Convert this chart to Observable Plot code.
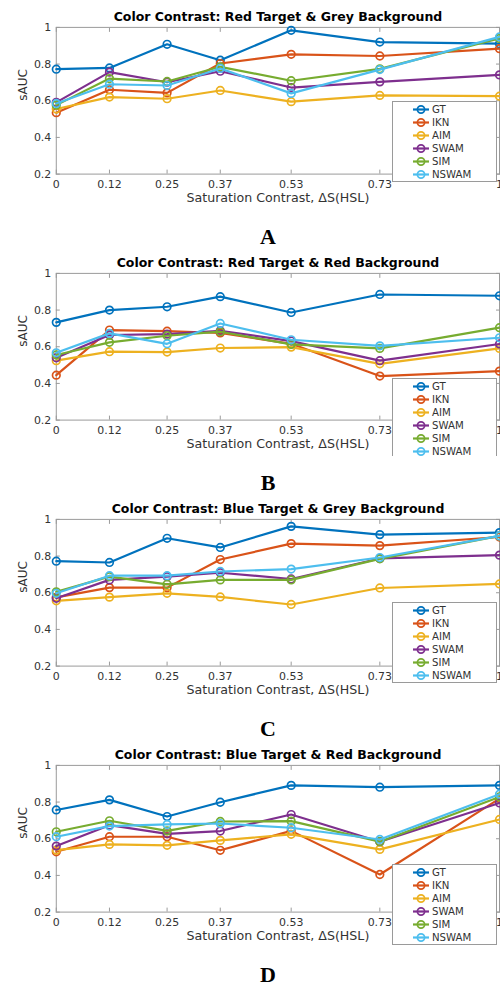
<!DOCTYPE html>
<html><head><meta charset="utf-8">
<script src="https://cdn.jsdelivr.net/npm/d3@7"></script>
<script src="https://cdn.jsdelivr.net/npm/@observablehq/plot@0.6"></script>
<style>
body{margin:0;background:#fff;}
#root{position:relative;width:500px;height:985px;overflow:hidden;font-family:"DejaVu Sans",sans-serif;}
.panel{position:absolute;left:0;width:500px;height:246px;}
.clip{position:absolute;left:0;top:0;width:500px;height:210px;overflow:hidden;}
.clip svg{display:block;}
.title{position:absolute;left:0;width:556px;top:10.3px;text-align:center;font:bold 12.5px "DejaVu Sans",sans-serif;line-height:14px;color:#000;white-space:nowrap;}
.letter{position:absolute;left:0;width:536px;top:225.6px;text-align:center;font:bold 22px "Liberation Serif",serif;line-height:22px;color:#000;}
.legend{position:absolute;left:392px;}
</style>
</head><body><div id="root"></div>
<script>
const xValues = [0, 0.12, 0.25, 0.37, 0.53, 0.73, 1];
const xTickLabels = ["0", "0.12", "0.25", "0.37", "0.53", "0.73", "1"];
const yTicks = [0.2, 0.4, 0.6, 0.8, 1];
const yTickLabels = ["0.2", "0.4", "0.6", "0.8", "1"];
const seriesNames = ["GT", "IKN", "AIM", "SWAM", "SIM", "NSWAM"];
const seriesColors = ["#0072BD", "#D95319", "#EDB120", "#7E2F8E", "#77AC30", "#4DBEEE"];
const panelTitles = [
  "Color Contrast: Red Target & Grey Background",
  "Color Contrast: Red Target & Red Background",
  "Color Contrast: Blue Target & Grey Background",
  "Color Contrast: Blue Target & Red Background"
];
const panelLetters = ["A", "B", "C", "D"];
const xLabel = "Saturation Contrast, \u0394S(HSL)";
const yLabel = "sAUC";

// rows: GT, IKN, AIM, SWAM, SIM, NSWAM
const redGreyValues = [
  [0.772, 0.779, 0.908, 0.821, 0.984, 0.920, 0.911],
  [0.535, 0.660, 0.643, 0.803, 0.853, 0.844, 0.884],
  [0.555, 0.620, 0.611, 0.656, 0.595, 0.629, 0.625],
  [0.591, 0.756, 0.701, 0.761, 0.672, 0.703, 0.741],
  [0.576, 0.721, 0.705, 0.785, 0.709, 0.774, 0.940],
  [0.585, 0.690, 0.683, 0.776, 0.640, 0.770, 0.948]
];
const redRedValues = [
  [0.733, 0.800, 0.818, 0.873, 0.787, 0.885, 0.878],
  [0.445, 0.691, 0.685, 0.675, 0.616, 0.440, 0.467],
  [0.524, 0.573, 0.571, 0.593, 0.598, 0.507, 0.591],
  [0.540, 0.664, 0.669, 0.687, 0.631, 0.524, 0.615],
  [0.555, 0.624, 0.660, 0.682, 0.613, 0.591, 0.704],
  [0.567, 0.673, 0.616, 0.727, 0.638, 0.605, 0.649]
];
const blueGreyValues = [
  [0.772, 0.765, 0.897, 0.847, 0.962, 0.917, 0.928],
  [0.575, 0.628, 0.628, 0.781, 0.868, 0.857, 0.904],
  [0.556, 0.576, 0.597, 0.577, 0.536, 0.626, 0.648],
  [0.570, 0.670, 0.688, 0.709, 0.675, 0.787, 0.805],
  [0.605, 0.688, 0.646, 0.670, 0.670, 0.785, 0.910],
  [0.597, 0.693, 0.693, 0.716, 0.729, 0.792, 0.910]
];
const blueRedValues = [
  [0.757, 0.812, 0.721, 0.799, 0.891, 0.881, 0.891],
  [0.529, 0.611, 0.611, 0.537, 0.643, 0.405, 0.819],
  [0.538, 0.569, 0.564, 0.591, 0.624, 0.542, 0.705],
  [0.560, 0.674, 0.627, 0.642, 0.732, 0.584, 0.795],
  [0.638, 0.698, 0.643, 0.694, 0.696, 0.584, 0.828],
  [0.611, 0.669, 0.678, 0.683, 0.660, 0.596, 0.843]
];
const panelValues = [redGreyValues, redRedValues, blueGreyValues, blueRedValues];

// layout
const panelTops = [0, 246, 492, 738];
const legendTops = [101, 132, 110, 126];
const axisGrey = "#9a9a9a";
const textColor = "#333";

const root = document.getElementById("root");

panelValues.forEach((values, p) => {
  const panel = document.createElement("div");
  panel.className = "panel";
  panel.style.top = panelTops[p] + "px";
  root.appendChild(panel);

  const clip = document.createElement("div");
  clip.className = "clip";
  panel.appendChild(clip);

  const marks = [
    Plot.frame({stroke: axisGrey}),
    Plot.axisX({ticks: xValues, anchor: "bottom", tickSize: 0, tickPadding: 6, fontSize: 11, fill: textColor,
      tickFormat: d => xTickLabels[xValues.indexOf(d)], label: null}),
    Plot.axisX({ticks: xValues, anchor: "bottom", tickSize: -4, fill: "none", stroke: axisGrey, label: null}),
    Plot.axisX({ticks: xValues, anchor: "top", tickSize: -4, fill: "none", stroke: axisGrey, label: null}),
    Plot.axisY({ticks: yTicks, anchor: "left", tickSize: 0, tickPadding: 5, fontSize: 11, fill: textColor,
      tickFormat: d => yTickLabels[yTicks.indexOf(d)], label: null}),
    Plot.axisY({ticks: yTicks, anchor: "left", tickSize: -4, fill: "none", stroke: axisGrey, label: null}),
    Plot.axisY({ticks: yTicks, anchor: "right", tickSize: -4, fill: "none", stroke: axisGrey, label: null}),
    Plot.text([xLabel], {text: d => d, frameAnchor: "bottom", dy: 28, fontSize: 12.7, fill: textColor}),
    Plot.text([yLabel], {text: d => d, frameAnchor: "left", dx: -33.5, rotate: -90, fontSize: 12, fill: textColor})
  ];
  values.forEach((row, s) => {
    const data = row.map((v, i) => ({x: xValues[i], y: v}));
    marks.push(Plot.line(data, {x: "x", y: "y", stroke: seriesColors[s], strokeWidth: 2.2}));
    marks.push(Plot.dot(data, {x: "x", y: "y", r: 3.8, stroke: seriesColors[s], strokeWidth: 1.7, fill: "none"}));
  });

  const chart = Plot.plot({
    width: 502, height: 210,
    marginTop: 27, marginBottom: 35.7, marginLeft: 56, marginRight: 1,
    x: {domain: [0, 1]},
    y: {domain: [0.2, 1]},
    style: {fontFamily: "DejaVu Sans", fontSize: "11px", color: textColor, background: "transparent", overflow: "visible"},
    marks
  });
  clip.appendChild(chart);

  // legend
  const leg = d3.create("svg").attr("class", "legend").attr("width", 106).attr("height", 82)
    .style("top", legendTops[p] + "px");
  leg.append("rect").attr("x", 0.5).attr("y", 0.5).attr("width", 104).attr("height", 80)
    .attr("fill", "#fff").attr("stroke", axisGrey);
  seriesNames.forEach((name, s) => {
    const cy = 8.5 + 13 * s;
    const g = leg.append("g");
    g.append("line").attr("x1", 21).attr("x2", 37).attr("y1", cy).attr("y2", cy)
      .attr("stroke", seriesColors[s]).attr("stroke-width", 2.2);
    g.append("circle").attr("cx", 29).attr("cy", cy).attr("r", 3.6)
      .attr("fill", "none").attr("stroke", seriesColors[s]).attr("stroke-width", 1.7);
    g.append("text").attr("x", 40).attr("y", cy).attr("dy", "0.36em")
      .attr("font-family", "DejaVu Sans").attr("font-size", 10.2).attr("fill", textColor).text(name);
  });
  clip.appendChild(leg.node());

  const title = document.createElement("div");
  title.className = "title";
  title.textContent = panelTitles[p];
  panel.appendChild(title);

  const letter = document.createElement("div");
  letter.className = "letter";
  letter.textContent = panelLetters[p];
  panel.appendChild(letter);
});
</script>
</body></html>
